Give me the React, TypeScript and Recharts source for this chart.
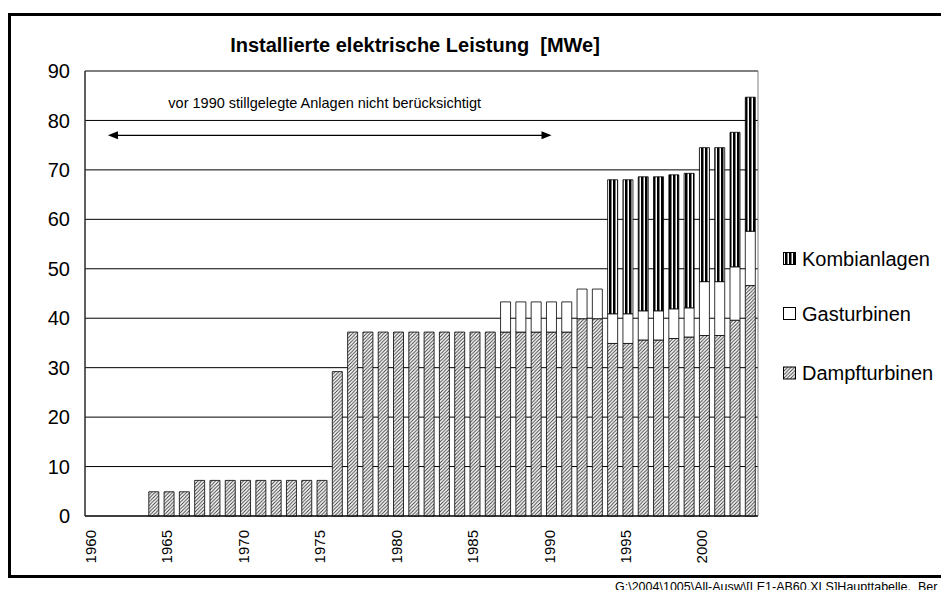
import {
  Bar,
  BarChart,
  CartesianGrid,
  ReferenceArea,
  ReferenceLine,
  XAxis,
  YAxis,
} from "recharts";

const years = [
  1960, 1961, 1962, 1963, 1964, 1965, 1966, 1967, 1968, 1969, 1970,
  1971, 1972, 1973, 1974, 1975, 1976, 1977, 1978, 1979, 1980, 1981,
  1982, 1983, 1984, 1985, 1986, 1987, 1988, 1989, 1990, 1991, 1992,
  1993, 1994, 1995, 1996, 1997, 1998, 1999, 2000, 2001, 2002, 2003,
];

// MWe per year
const dampf = [
  0, 0, 0, 0, 4.9, 4.9, 4.9, 7.2, 7.2, 7.2, 7.2,
  7.2, 7.2, 7.2, 7.2, 7.2, 29.2, 37.2, 37.2, 37.2, 37.2, 37.2,
  37.2, 37.2, 37.2, 37.2, 37.2, 37.2, 37.2, 37.2, 37.2, 37.2, 39.9,
  39.9, 34.9, 34.9, 35.6, 35.6, 35.9, 36.2, 36.5, 36.5, 39.6, 46.6,
];
const gas = [
  null, null, null, null, null, null, null, null, null, null, null,
  null, null, null, null, null, null, null, null, null, null, null,
  null, null, null, null, null, 6.1, 6.1, 6.1, 6.1, 6.1, 6.0,
  6.0, 6.0, 6.0, 5.9, 5.9, 6.0, 5.9, 10.9, 10.9, 10.8, 11.0,
];
const kombi = [
  null, null, null, null, null, null, null, null, null, null, null,
  null, null, null, null, null, null, null, null, null, null, null,
  null, null, null, null, null, null, null, null, null, null, null,
  null, 27.1, 27.1, 27.1, 27.1, 27.1, 27.2, 27.1, 27.1, 27.2, 27.1,
];

const yTicks = [0, 10, 20, 30, 40, 50, 60, 70, 80, 90];
const noteFrom = 1961;
const noteTo = 1990;
const noteLevel = 77;

const title = "Installierte elektrische Leistung  [MWe]";
const note = "vor 1990 stillgelegte Anlagen nicht berücksichtigt";
const footer = "G:\\2004\\1005\\All-Ausw\\[LE1-AB60.XLS]Haupttabelle,  Ber";
const names = {
  kombi: "Kombianlagen",
  gas: "Gasturbinen",
  dampf: "Dampfturbinen",
};

const data = years.map((year, i) => ({
  year,
  dampf: dampf[i],
  gas: gas[i],
  kombi: kombi[i],
}));

const font = "'Liberation Sans', Arial, Helvetica, sans-serif";

function Patterns({ prefix }: { prefix: string }) {
  return (
    <defs>
      <pattern id={`${prefix}-hatch`} width="3.5" height="3.5" patternUnits="userSpaceOnUse">
        <rect width="3.5" height="3.5" fill="#fff" />
        <path d="M-1,1 L1,-1 M0,3.5 L3.5,0 M2.5,4.5 L4.5,2.5" stroke="#333" strokeWidth="0.9" />
      </pattern>
      <pattern id={`${prefix}-stripes`} width="4" height="4" patternUnits="userSpaceOnUse">
        <rect width="4" height="4" fill="#fff" />
        <rect x="1" width="2.5" height="4" fill="#000" />
      </pattern>
    </defs>
  );
}

function YearTick(props: any) {
  const { x, y, payload } = props;
  return (
    <text
      x={0}
      y={0}
      transform={`translate(${x + 3},${y + 14}) rotate(-90)`}
      textAnchor="end"
      fontSize={15}
      fontFamily={font}
      fill="#000"
    >
      {payload.value}
    </text>
  );
}

function NoteArrow(props: any) {
  const { x1, y1, x2 } = props;
  const mid = (x1 + x2) / 2 - 5;
  return (
    <g>
      <line x1={x1 + 8} y1={y1} x2={x2 - 8} y2={y1} stroke="#000" strokeWidth={1.2} />
      <polygon points={`${x1},${y1} ${x1 + 10},${y1 - 4} ${x1 + 10},${y1 + 4}`} fill="#000" />
      <polygon points={`${x2},${y1} ${x2 - 10},${y1 - 4} ${x2 - 10},${y1 + 4}`} fill="#000" />
      <text x={mid} y={y1 - 27} textAnchor="middle" fontSize={14.5} fontFamily={font} fill="#000">
        {note}
      </text>
    </g>
  );
}

const legendRows = [
  { key: "kombi", fill: "url(#lg-stripes)", cy: 258.5 },
  { key: "gas", fill: "#fff", cy: 313.5 },
  { key: "dampf", fill: "url(#lg-hatch)", cy: 373 },
] as const;

export default function App() {
  return (
    <div style={{ position: "absolute", left: 0, top: 0, width: 941, height: 590, background: "#fff" }}>
      <BarChart
        width={941}
        height={590}
        data={data}
        margin={{ top: 71, right: 183, bottom: 0, left: 0 }}
        barCategoryGap="17%"
      >
        <Patterns prefix="bar" />
        <CartesianGrid vertical={false} stroke="#000" />
        <ReferenceArea x1={1960} x2={2003} y1={0} y2={90} fill="none" stroke="#808080" strokeWidth={1} />
        <XAxis
          dataKey="year"
          interval={4}
          height={74}
          tickLine={false}
          tickSize={0}
          tickMargin={0}
          axisLine={{ stroke: "#000" }}
          tick={<YearTick />}
        />
        <YAxis
          domain={[0, 90]}
          ticks={yTicks}
          width={85}
          tickLine={false}
          tickSize={0}
          tickMargin={15}
          axisLine={{ stroke: "#000" }}
          tick={{ fontSize: 20, fill: "#000", fontFamily: font }}
        />
        <Bar dataKey="dampf" stackId="a" fill="url(#bar-hatch)" stroke="#000" strokeWidth={0.8} name={names.dampf} isAnimationActive={false} />
        <Bar dataKey="gas" stackId="a" fill="#fff" stroke="#000" strokeWidth={0.8} name={names.gas} isAnimationActive={false} />
        <Bar dataKey="kombi" stackId="a" fill="url(#bar-stripes)" stroke="#000" strokeWidth={0.8} name={names.kombi} isAnimationActive={false} />
        <ReferenceLine
          segment={[
            { x: noteFrom, y: noteLevel },
            { x: noteTo, y: noteLevel },
          ]}
          shape={<NoteArrow />}
        />
      </BarChart>
      <svg
        width={941}
        height={590}
        style={{ position: "absolute", left: 0, top: 0, pointerEvents: "none" }}
      >
        <Patterns prefix="lg" />
        <rect x={9.5} y={14.5} width={1000} height={562} fill="none" stroke="#000" strokeWidth={3} />
        <text
          x={415}
          y={52}
          textAnchor="middle"
          fontSize={20}
          fontWeight="bold"
          fontFamily={font}
          style={{ whiteSpace: "pre" }}
        >
          {title}
        </text>
        {legendRows.map((r) => (
          <g key={r.key}>
            <rect x={783.5} y={r.cy - 6} width={12} height={12} fill={r.fill} stroke="#000" strokeWidth={1} />
            <text x={802} y={r.cy} dy="0.36em" fontSize={20} fontFamily={font} fill="#000">
              {names[r.key]}
            </text>
          </g>
        ))}
        <text x={615} y={591} fontSize={12.5} fontFamily={font} fill="#000" style={{ whiteSpace: "pre" }}>
          {footer}
        </text>
      </svg>
    </div>
  );
}
